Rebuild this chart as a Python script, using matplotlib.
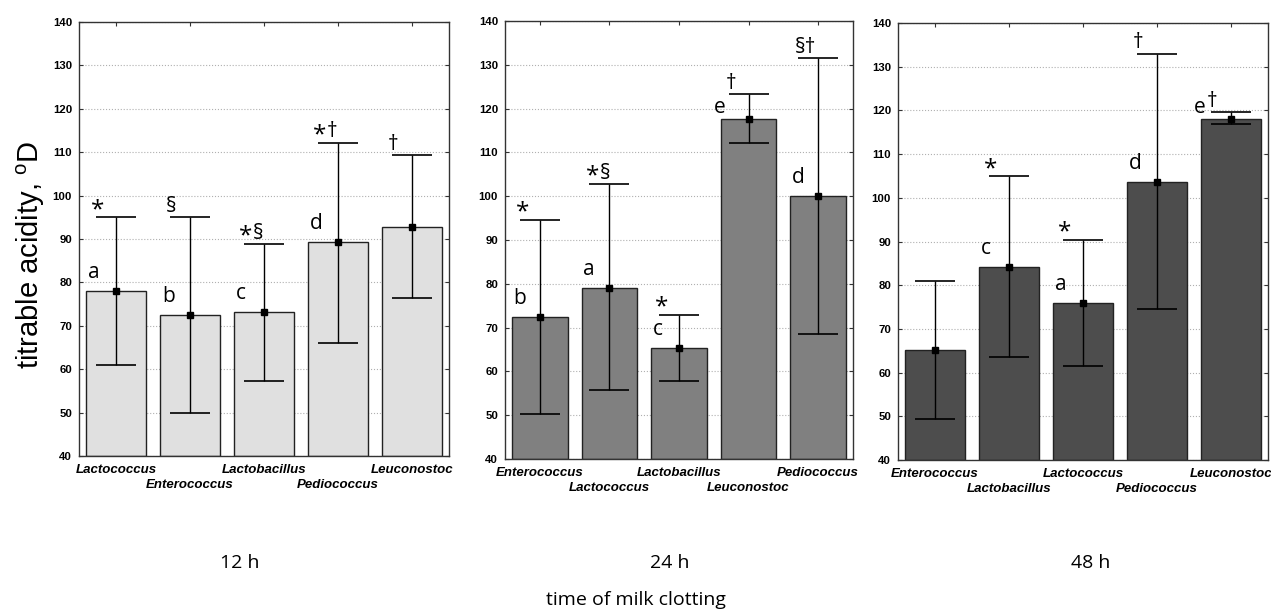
import matplotlib.pyplot as plt

plt.rcParams['font.family'] = ['Liberation Sans', 'DejaVu Sans']

# 12 h
genera_12 = ["Lactococcus", "Enterococcus", "Lactobacillus", "Pediococcus", "Leuconostoc"]
mean_12 = [78.0, 72.5, 73.1, 89.2, 92.8]
low_12 = [61.0, 49.8, 57.3, 66.1, 76.3]
high_12 = [95.0, 95.0, 88.9, 112.2, 109.3]
letters_12 = ["a", "b", "c", "d", ""]
marks_12 = ["*", "§", "*§", "*†", "†"]

# 24 h
genera_24 = ["Enterococcus", "Lactococcus", "Lactobacillus", "Leuconostoc", "Pediococcus"]
mean_24 = [72.5, 79.1, 65.3, 117.7, 100.0]
low_24 = [50.3, 55.7, 57.9, 112.1, 68.5]
high_24 = [94.6, 102.8, 72.9, 123.3, 131.6]
letters_24 = ["b", "a", "c", "e", "d"]
marks_24 = ["*", "*§", "*", "†", "§†"]

# 48 h
genera_48 = ["Enterococcus", "Lactobacillus", "Lactococcus", "Pediococcus", "Leuconostoc"]
mean_48 = [65.2, 84.2, 76.0, 103.6, 118.1]
low_48 = [49.3, 63.6, 61.6, 74.5, 116.8]
high_48 = [81.0, 104.9, 90.3, 133.0, 119.6]
letters_48 = ["", "c", "a", "d", "e"]
marks_48 = ["", "*", "*", "†", "†"]

panels = [
    ("12 h", genera_12, mean_12, low_12, high_12, letters_12, marks_12, "#e0e0e0"),
    ("24 h", genera_24, mean_24, low_24, high_24, letters_24, marks_24, "#808080"),
    ("48 h", genera_48, mean_48, low_48, high_48, letters_48, marks_48, "#4d4d4d"),
]
axes_pos = [
    [0.0622, 0.2573, 0.2911, 0.7069],
    [0.3973, 0.2524, 0.2738, 0.7134],
    [0.7065, 0.2508, 0.2911, 0.7117],
]
title_x = [0.189, 0.527, 0.858]

note_font = ['Open Sans', 'DejaVu Sans']

fig = plt.figure(figsize=(12.71, 6.14), dpi=100)

for i, (title, genera, mean, low, high, letters, marks, color) in enumerate(panels):
    ax = fig.add_axes(axes_pos[i])
    x = list(range(len(genera)))
    ax.bar(x, [m - 40 for m in mean], bottom=40, width=0.8, color=color,
           edgecolor='#222222', linewidth=1.0, zorder=2)
    yerr = [[m - l for m, l in zip(mean, low)], [h - m for m, h in zip(mean, high)]]
    ax.errorbar(x, mean, yerr=yerr, fmt='s', color='black', markersize=4,
                ecolor='black', elinewidth=1.0, capsize=14.5, capthick=1.2, zorder=3)
    for j in x:
        if letters[j]:
            # short error bar: letter goes lower and left of the cap
            if high[j] - mean[j] < 6:
                dx, ly = -0.5, mean[j] + 1.2
            else:
                dx, ly = -0.38, mean[j] + 3.0
            ax.text(j + dx, ly, letters[j], ha='left', va='baseline',
                    fontsize=15, family=note_font, zorder=4)
        m = marks[j]
        if m.startswith("*"):
            # the asterisk is drawn a bit bigger, as in the original
            ax.text(j - 0.34, high[j] + 0.3, "*", ha='left', va='baseline',
                    fontsize=17.5, family=note_font, zorder=4)
            if len(m) > 1:
                ax.annotate(m[1:], xy=(j - 0.34, high[j] + 1.2), xytext=(10, 0),
                            textcoords='offset points', ha='left', va='baseline',
                            fontsize=15, family=note_font, zorder=4)
        elif m:
            ax.text(j - 0.33, high[j] + 1.2, m, ha='left', va='baseline',
                    fontsize=15, family=note_font, zorder=4)
    ax.set_xlim(-0.5, len(genera) - 0.5)
    ax.set_ylim(40, 140)
    ax.set_yticks(range(40, 141, 10))
    # staggered genus names: even ones on the first row, odd ones below
    ax.set_xticks(x[0::2])
    ax.set_xticklabels(genera[0::2], fontsize=9.5, fontweight='bold', style='italic')
    ax.set_xticks(x[1::2], minor=True)
    ax.set_xticklabels(genera[1::2], minor=True, fontsize=9.5, fontweight='bold',
                       style='italic')
    for lab in ax.get_yticklabels():
        lab.set_fontweight('bold')
        lab.set_fontsize(8.2)
    ax.tick_params(which='both', direction='in', top=True, right=True, length=3,
                   width=0.8, colors='#333333', labelcolor='black')
    ax.tick_params(axis='x', which='major', pad=6)
    ax.tick_params(axis='x', which='minor', pad=16.8)
    ax.tick_params(axis='y', pad=5)
    ax.grid(axis='y', linestyle=':', color='#b0b0b0', linewidth=0.8, zorder=0)
    for sp in ax.spines.values():
        sp.set_color('#333333')
        sp.set_linewidth(1.0)
    fig.text(title_x[i], 0.083, title, ha='center', va='center', fontsize=14,
             family=note_font)

fig.text(0.024, 0.585, "titrable acidity, $^{\\mathregular{o}}$D", rotation=90,
         ha='center', va='center', fontsize=21)
fig.text(0.5, 0.022, "time of milk clotting", ha='center', va='center', fontsize=14,
         family=note_font)

plt.savefig("out.png")
